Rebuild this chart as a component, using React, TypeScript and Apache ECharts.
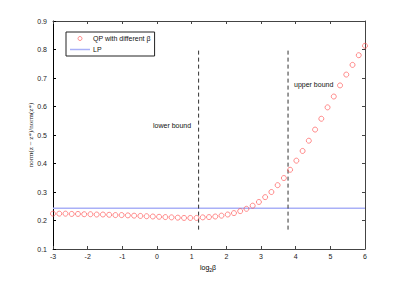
import React, { useEffect, useRef } from "react";
import * as echarts from "echarts";

const betaLog2: number[] = Array.from({ length: 51 }, (_, i) => Math.round((-3 + 0.18 * i) * 100) / 100);
const qpValues: number[] = [
  0.224, 0.224, 0.224, 0.223, 0.223, 0.222, 0.222, 0.221, 0.221, 0.220,
  0.219, 0.219, 0.218, 0.217, 0.216, 0.215, 0.214, 0.213, 0.212, 0.211,
  0.210, 0.209, 0.209, 0.209, 0.211, 0.212, 0.214, 0.217, 0.221, 0.226,
  0.233, 0.241, 0.252, 0.265, 0.282, 0.300, 0.324, 0.349, 0.378, 0.410,
  0.444, 0.480, 0.519, 0.557, 0.597, 0.635, 0.674, 0.712, 0.746, 0.780,
  0.813,
];
const lpValue = 0.243;
const lowerBound = 1.2;
const upperBound = 3.78;
const boundRange: number[] = [0.168, 0.8];
const xTicks = { min: -3, max: 6, interval: 1 };
const yTicks = { min: 0.1, max: 0.9, interval: 0.1 };

const FONT = "'Liberation Sans', Arial, sans-serif";
const RED = "#ff4a4a";
const BLUE = "#a9b0f7";

export default function App() {
  const ref = useRef<HTMLDivElement>(null);
  useEffect(() => {
    document.body.style.margin = "0";
    const chart = echarts.init(ref.current!, undefined, { renderer: "svg" });
    const axisColor = "#444";
    const baseX = {
      type: "value" as const,
      min: xTicks.min,
      max: xTicks.max,
      interval: xTicks.interval,
      splitLine: { show: false },
    };
    const baseY = {
      type: "value" as const,
      min: yTicks.min,
      max: yTicks.max,
      interval: yTicks.interval,
      splitLine: { show: false },
    };
    chart.setOption({
      animation: false,
      backgroundColor: "#fff",
      grid: { left: 53, right: 39, top: 21, bottom: 32, containLabel: false },
      legend: {
        left: 66,
        top: 32,
        orient: "vertical",
        data: [
          { name: "QP with different β", icon: "circle", itemStyle: { color: "rgba(0,0,0,0)", borderColor: RED, borderWidth: 0.8 } },
          { name: "LP", icon: "path://M0,0H40V3H0Z", itemStyle: { color: BLUE } },
        ],
        itemWidth: 20,
        itemHeight: 4,
        itemGap: 4,
        padding: [3, 4, 3, 4],
        borderColor: "#222",
        borderWidth: 1,
        backgroundColor: "#fff",
        textStyle: { fontSize: 7, fontFamily: FONT, color: "#111", padding: [0, 0, 0, -2] },
      },
      xAxis: [
        {
          ...baseX,
          position: "bottom",
          axisLine: { show: true, onZero: false, lineStyle: { color: axisColor, width: 1 } },
          axisTick: { show: true, inside: true, length: 3, lineStyle: { color: axisColor } },
          axisLabel: { fontSize: 7, fontFamily: FONT, color: "#222", margin: 4 },
        },
        {
          ...baseX,
          position: "top",
          axisLine: { show: true, onZero: false, lineStyle: { color: axisColor, width: 1 } },
          axisTick: { show: true, inside: true, length: 3, lineStyle: { color: axisColor } },
          axisLabel: { show: false },
        },
      ],
      yAxis: [
        {
          ...baseY,
          position: "left",
          axisLine: { show: true, onZero: false, lineStyle: { color: "#000", width: 1 } },
          axisTick: { show: true, inside: true, length: 3, lineStyle: { color: "#000" } },
          axisLabel: {
            fontSize: 7,
            fontFamily: FONT,
            color: "#222",
            margin: 6,
            formatter: (v: number) => v.toFixed(1),
          },
        },
        {
          ...baseY,
          position: "right",
          axisLine: { show: true, onZero: false, lineStyle: { color: axisColor, width: 1 } },
          axisTick: { show: true, inside: true, length: 3, lineStyle: { color: axisColor } },
          axisLabel: { show: false },
        },
      ],
      series: [
        {
          name: "LP",
          type: "line",
          data: [[xTicks.min, lpValue], [xTicks.max, lpValue]],
          symbol: "none",
          lineStyle: { color: BLUE, width: 1.5 },
          itemStyle: { color: BLUE },
        },
        {
          name: "lower",
          type: "line",
          data: [[lowerBound, boundRange[0]], [lowerBound, boundRange[1]]],
          symbol: "none",
          lineStyle: { color: "#333", width: 1, type: [4, 3] },
        },
        {
          name: "upper",
          type: "line",
          data: [[upperBound, boundRange[0]], [upperBound, boundRange[1]]],
          symbol: "none",
          lineStyle: { color: "#333", width: 1, type: [4, 3] },
        },
        {
          name: "QP with different β",
          type: "scatter",
          data: betaLog2.map((x, i) => [x, qpValues[i]]),
          symbol: "circle",
          symbolSize: 5,
          itemStyle: { color: "rgba(0,0,0,0)", borderColor: RED, borderWidth: 0.8 },
          z: 5,
        },
      ],
      graphic: [
        {
          type: "text",
          left: 153,
          top: 122,
          style: { text: "lower bound", fontSize: 7, fontFamily: FONT, fill: "#111" },
        },
        {
          type: "text",
          left: 294,
          top: 81,
          style: { text: "upper bound", fontSize: 7, fontFamily: FONT, fill: "#111" },
        },
        {
          type: "text",
          x: 200,
          y: 262,
          style: {
            text: "{a|log}{b|2}{a|β}",
            rich: {
              a: { fontSize: 7, fontFamily: FONT, color: "#111" },
              b: { fontSize: 5, fontFamily: FONT, color: "#111", padding: [5, 0, 0, 0] },
            },
          },
        },
        {
          type: "text",
          x: 31,
          y: 135,
          rotation: Math.PI / 2,
          style: {
            text: "norm(z − z*)/norm(z*)",
            fontSize: 7,
            fontFamily: "'Liberation Serif', serif",
            fill: "#222",
            align: "center",
            verticalAlign: "middle",
          },
        },
      ],
    });
    return () => chart.dispose();
  }, []);
  return <div ref={ref} style={{ width: 404, height: 281, position: "absolute", left: 0, top: 0 }} />;
}
